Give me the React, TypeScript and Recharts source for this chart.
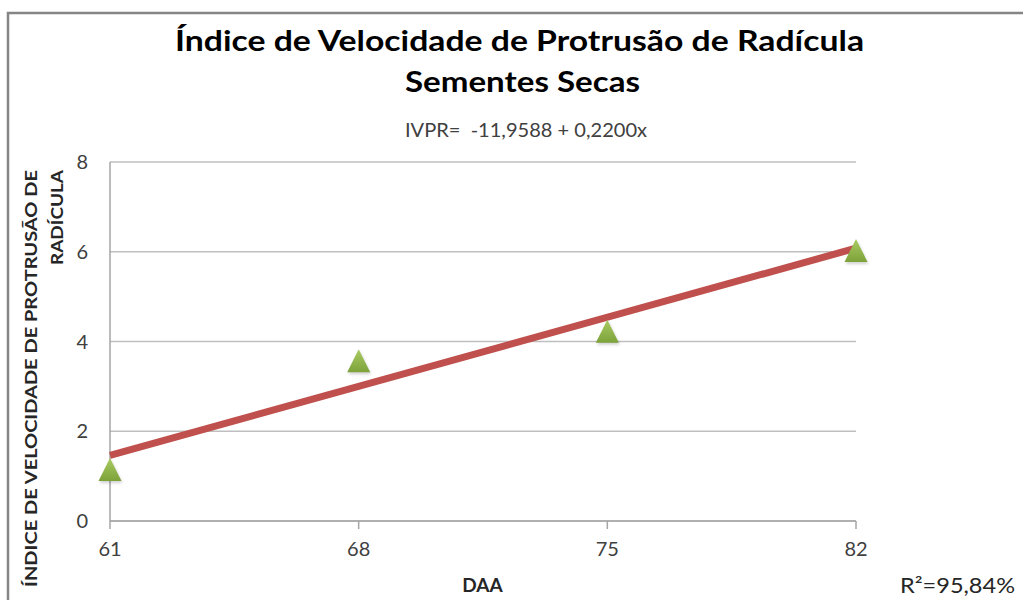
import { CartesianGrid, Scatter, ScatterChart, XAxis, YAxis } from "recharts"

// DAA values and IVPR readings (sementes secas)
const daa = [61, 68, 75, 82]
const ivpr = [1.15, 3.57, 4.23, 6.03]

// trend line ends (IVPR = -11,9588 + 0,2200x)
const trendX = [61, 82]
const trendY = [1.46, 6.08]

const xTicks = [61, 68, 75, 82]
const yTicks = [0, 2, 4, 6, 8]

const points = daa.map((x, i) => ({ x, y: ivpr[i] }))
const trend = trendX.map((x, i) => ({ x, y: trendY[i] }))

const font = "Lato, 'DejaVu Sans', sans-serif"

const Triangle = (props: any) => {
  const { cx, cy } = props
  if (cx == null || cy == null) return <g />
  const w = 11.5
  const h = 11.5
  return (
    <g>
      <polygon
        points={`${cx - w + 1},${cy + h + 2} ${cx + w + 1},${cy + h + 2} ${cx + 1},${cy - h + 2}`}
        fill="#000"
        opacity={0.18}
        filter="url(#blur)"
      />
      <polygon points={`${cx - w},${cy + h} ${cx + w},${cy + h} ${cx},${cy - h}`} fill="url(#green)" />
    </g>
  )
}

export default function App() {
  return (
    <div style={{ position: "absolute", left: 0, top: 0, width: 1023, height: 600, background: "#fff" }}>
      <ScatterChart width={1023} height={600} margin={{ top: 162, right: 167, bottom: 49, left: 70 }}>
        <defs>
          <linearGradient id="green" x1="0" y1="0" x2="0" y2="1">
            <stop offset="0%" stopColor="#a9cc62" />
            <stop offset="100%" stopColor="#7da23a" />
          </linearGradient>
          <filter id="blur" x="-50%" y="-50%" width="200%" height="200%">
            <feGaussianBlur stdDeviation="1.5" />
          </filter>
        </defs>
        <CartesianGrid horizontal={true} vertical={false} stroke="#bfbfbf" strokeWidth={1.3} />
        <XAxis
          type="number"
          dataKey="x"
          domain={[61, 82]}
          ticks={xTicks}
          height={30}
          tickSize={8}
          tickMargin={13}
          tick={{ fill: "#404040", fontSize: 20, fontFamily: font }}
          axisLine={{ stroke: "#a6a6a6", strokeWidth: 1.5 }}
          tickLine={{ stroke: "#a6a6a6", strokeWidth: 1.5 }}
        />
        <YAxis
          type="number"
          dataKey="y"
          domain={[0, 8]}
          ticks={yTicks}
          width={40}
          tickSize={8}
          tickMargin={14}
          tickLine={false}
          tick={{ fill: "#404040", fontSize: 20, fontFamily: font }}
          axisLine={{ stroke: "#a6a6a6", strokeWidth: 1.5 }}
        />
        <Scatter
          data={trend}
          line={{ stroke: "#c0504d", strokeWidth: 7 }}
          lineType="joint"
          shape={() => <g />}
          isAnimationActive={false}
        />
        <Scatter data={points} shape={<Triangle />} isAnimationActive={false} />
      </ScatterChart>
      <svg
        width={1023}
        height={600}
        style={{ position: "absolute", left: 0, top: 0, pointerEvents: "none" }}
      >
        <path d="M8,600 L8,13 L1023,13" fill="none" stroke="#858585" strokeWidth={2.5} />
        <text
          x={519.5}
          y={51}
          textAnchor="middle"
          fontFamily={font}
          fontWeight="bold"
          fontSize={29}
          textLength={689}
          lengthAdjust="spacingAndGlyphs"
          fill="#000"
        >
          Índice de Velocidade de Protrusão de Radícula
        </text>
        <text
          x={522.5}
          y={92}
          textAnchor="middle"
          fontFamily={font}
          fontWeight="bold"
          fontSize={28}
          textLength={235}
          lengthAdjust="spacingAndGlyphs"
          fill="#000"
        >
          Sementes Secas
        </text>
        <text
          x={526}
          y={137}
          textAnchor="middle"
          fontFamily={font}
          fontSize={20}
          textLength={242}
          lengthAdjust="spacingAndGlyphs"
          fill="#404040"
          style={{ whiteSpace: "pre" }}
        >
          IVPR=  -11,9588 + 0,2200x
        </text>
        <text
          transform="translate(37,378.5) rotate(-90)"
          textAnchor="middle"
          fontFamily={font}
          fontWeight="bold"
          fontSize={17}
          textLength={417}
          lengthAdjust="spacingAndGlyphs"
          fill="#262626"
        >
          ÍNDICE DE VELOCIDADE DE PROTRUSÃO DE
        </text>
        <text
          transform="translate(63,217.5) rotate(-90)"
          textAnchor="middle"
          fontFamily={font}
          fontWeight="bold"
          fontSize={17}
          textLength={95}
          lengthAdjust="spacingAndGlyphs"
          fill="#262626"
        >
          RADÍCULA
        </text>
        <text x={482.5} y={592} textAnchor="middle" fontFamily={font} fontWeight="bold" fontSize={19} fill="#262626">
          DAA
        </text>
        <text
          x={957.5}
          y={593}
          textAnchor="middle"
          fontFamily={font}
          fontSize={21}
          textLength={115}
          lengthAdjust="spacingAndGlyphs"
          fill="#262626"
        >
          R²=95,84%
        </text>
      </svg>
    </div>
  )
}
